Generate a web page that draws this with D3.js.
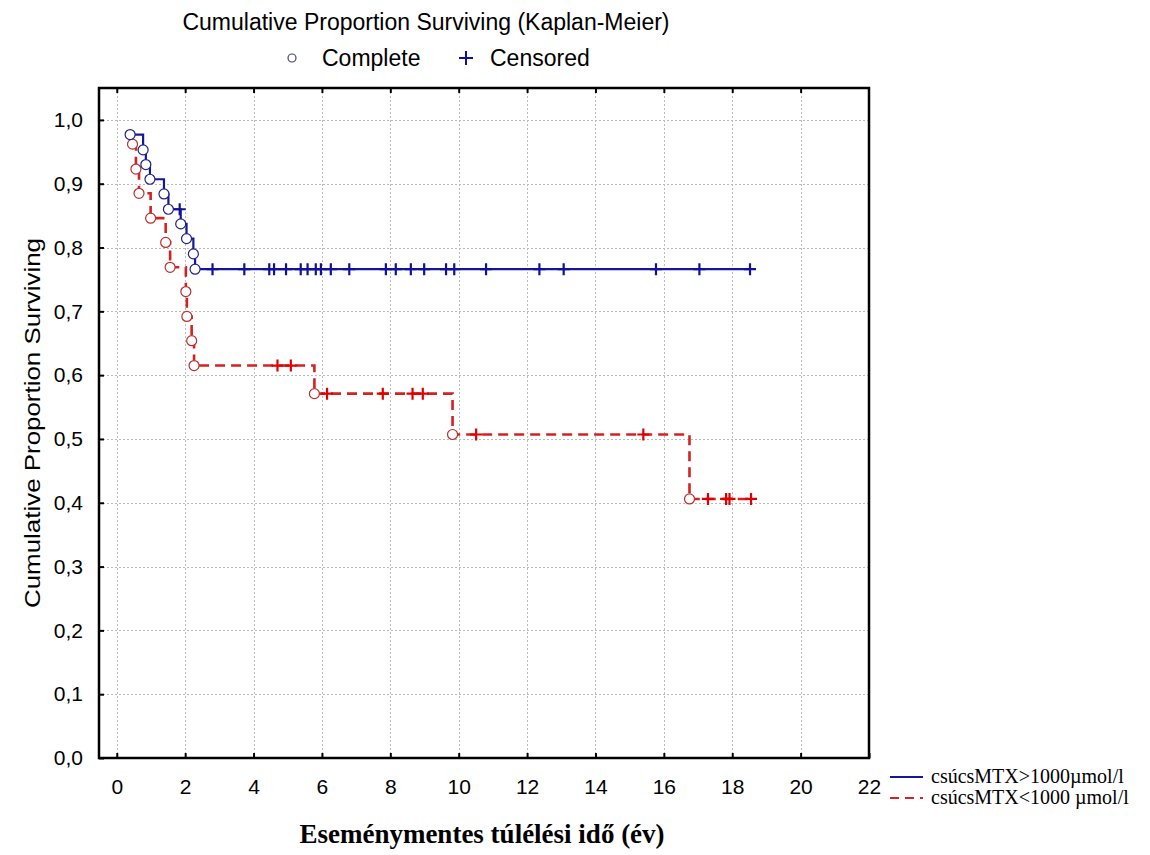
<!DOCTYPE html>
<html>
<head>
<meta charset="utf-8">
<script src="https://cdn.jsdelivr.net/npm/d3@7"></script>
<style>
  body { margin: 0; background: #fff; }
  svg { display: block; }
</style>
</head>
<body>
<svg id="km-chart" width="1150" height="855"></svg>
<script>
// values
let xTicks = [0, 2, 4, 6, 8, 10, 12, 14, 16, 18, 20, 22];
let yTicks = [0, 0.1, 0.2, 0.3, 0.4, 0.5, 0.6, 0.7, 0.8, 0.9, 1.0];

let groupNames = ["csúcsMTX>1000µmol/l", "csúcsMTX<1000 µmol/l"];

// group 1 (blue, solid)
let blueEventTimes = [0.39, 0.77, 0.85, 0.97, 1.38, 1.51, 1.87, 2.04, 2.24, 2.29];
let blueEventSurv = [0.977, 0.953, 0.930, 0.907, 0.884, 0.860, 0.837, 0.814, 0.790, 0.766];
let blueCensorTimes = [1.84, 2.80, 3.73, 4.46, 4.60, 4.95, 5.38, 5.58, 5.82, 5.97, 6.26, 6.80,
  7.87, 8.16, 8.60, 8.99, 9.63, 9.87, 10.80, 12.36, 13.07, 15.77, 17.04, 18.52];

// group 2 (red, dashed)
let redEventTimes = [0.46, 0.56, 0.65, 0.99, 1.43, 1.56, 2.02, 2.05, 2.19, 2.26, 5.78, 9.82, 16.75];
let redEventSurv = [0.962, 0.923, 0.885, 0.846, 0.808, 0.769, 0.731, 0.692, 0.654, 0.615, 0.571, 0.507, 0.406];
let redCensorTimes = [4.70, 5.09, 6.15, 7.78, 8.65, 8.95, 10.51, 15.40, 17.29, 17.82, 17.92, 18.55];

let svg = d3.select('#km-chart');
let frame = {l: 99, r: 869, t: 88, b: 758};

let x = d3.scaleLinear().domain([-0.52, 22]).range([frame.l, frame.r]);
let y = d3.scaleLinear().domain([0, 1.05]).range([frame.b, frame.t]);

let sansFont = "Arial, 'Liberation Sans', sans-serif";
let serifFont = "'Times New Roman', 'Liberation Serif', serif";

// grid
let grid = svg.append("g").attr("stroke", "#bbbbbb").attr("stroke-width", 1)
  .attr("stroke-dasharray", "2,2");
grid.selectAll(".vg").data(xTicks.filter(d => d < 22)).enter().append("line")
  .attr("x1", d => Math.round(x(d)) + 0.5).attr("x2", d => Math.round(x(d)) + 0.5)
  .attr("y1", frame.t).attr("y2", frame.b);
grid.selectAll(".hg").data(yTicks.filter(d => d > 0)).enter().append("line")
  .attr("y1", d => Math.round(y(d)) + 0.5).attr("y2", d => Math.round(y(d)) + 0.5)
  .attr("x1", frame.l).attr("x2", frame.r);

// axes with inward ticks
let xAxis = d3.axisBottom(x).tickValues(xTicks).tickSize(-5).tickFormat(d3.format("d"));
let yAxis = d3.axisLeft(y).tickValues(yTicks).tickSize(-5)
  .tickFormat(d => d3.format(".1f")(d).replace(".", ","));

let gx = svg.append("g").attr("transform", "translate(0," + frame.b + ")").call(xAxis);
let gy = svg.append("g").attr("transform", "translate(" + frame.l + ",0)").call(yAxis);
let gxTop = svg.append("g").attr("transform", "translate(0," + frame.t + ")")
  .call(d3.axisTop(x).tickValues(xTicks.filter(d => d < 22)).tickSize(-5).tickFormat(""));

[gx, gy, gxTop].forEach(g => {
  g.select(".domain").remove();
  g.selectAll(".tick line").attr("stroke", "#000").attr("stroke-width", 2);
});
gx.selectAll(".tick text").attr("font-family", sansFont).attr("font-size", "21px")
  .attr("fill", "#000").attr("y", 36).attr("dy", null);
gy.selectAll(".tick text").attr("font-family", sansFont).attr("font-size", "21px")
  .attr("fill", "#000").attr("x", -16);

svg.append("rect")
  .attr("x", frame.l).attr("y", frame.t)
  .attr("width", frame.r - frame.l).attr("height", frame.b - frame.t)
  .attr("fill", "none").attr("stroke", "#000").attr("stroke-width", 2.5);

// step path helper
function stepPoints(times, surv, endTime) {
  let pts = [[times[0], surv[0]]];
  for (let i = 1; i < times.length; i++) {
    pts.push([times[i], surv[i - 1]]);
    pts.push([times[i], surv[i]]);
  }
  pts.push([endTime, surv[surv.length - 1]]);
  return pts;
}
function levelAt(times, surv, t) {
  let i = d3.bisectRight(times, t) - 1;
  return i < 0 ? 1 : surv[i];
}

let line = d3.line().x(d => x(d[0])).y(d => y(d[1]));

function drawGroup(times, surv, censor, opts) {
  let g = svg.append("g");
  g.append("path")
    .attr("d", line(stepPoints(times, surv, d3.max(censor))))
    .attr("fill", "none")
    .attr("stroke", opts.lineColor)
    .attr("stroke-width", opts.width)
    .attr("stroke-dasharray", opts.dash);

  g.selectAll(".cens").data(censor).enter().append("path")
    .attr("transform", d => "translate(" + x(d) + "," + y(levelAt(times, surv, d)) + ")")
    .attr("d", "M-6,0H6M0,-6V6")
    .attr("stroke", opts.markColor)
    .attr("stroke-width", 2.2);

  g.selectAll(".ev").data(times).enter().append("circle")
    .attr("cx", d => x(d))
    .attr("cy", (d, i) => y(surv[i]))
    .attr("r", 5)
    .attr("fill", "#fff")
    .attr("stroke", opts.circleColor)
    .attr("stroke-width", 1.2);
}

drawGroup(redEventTimes, redEventSurv, redCensorTimes,
  {lineColor: "#d42222", markColor: "#e00000", circleColor: "#b83030", width: 2.6, dash: "10,6"});
drawGroup(blueEventTimes, blueEventSurv, blueCensorTimes,
  {lineColor: "#16169a", markColor: "#10109a", circleColor: "#202090", width: 2.2, dash: null});

// titles
svg.append("text")
  .attr("x", 426).attr("y", 30)
  .attr("text-anchor", "middle")
  .attr("font-family", sansFont).attr("font-size", "23px")
  .text("Cumulative Proportion Surviving (Kaplan-Meier)");

let topLegend = svg.append("g");
topLegend.append("circle").attr("cx", 292).attr("cy", 58).attr("r", 4)
  .attr("fill", "#fff").attr("stroke", "#404080").attr("stroke-width", 1.2);
topLegend.append("text").attr("x", 322).attr("y", 66)
  .attr("font-family", sansFont).attr("font-size", "23px").text("Complete");
topLegend.append("path").attr("transform", "translate(466,58)")
  .attr("d", "M-7,0H7M0,-7V7").attr("stroke", "#10109a").attr("stroke-width", 2);
topLegend.append("text").attr("x", 490).attr("y", 66)
  .attr("font-family", sansFont).attr("font-size", "23px").text("Censored");

svg.append("text")
  .attr("transform", "translate(40," + (frame.t + frame.b) / 2 + ") rotate(-90)")
  .attr("text-anchor", "middle")
  .attr("font-family", sansFont).attr("font-size", "22px")
  .attr("textLength", 370).attr("lengthAdjust", "spacingAndGlyphs")
  .text("Cumulative Proportion Surviving");

svg.append("text")
  .attr("x", 482).attr("y", 843)
  .attr("text-anchor", "middle")
  .attr("font-family", serifFont).attr("font-weight", "bold").attr("font-size", "27px")
  .text("Eseménymentes túlélési idő (év)");

// bottom-right legend
let legend = svg.append("g");
let legendRows = [
  {name: groupNames[0], color: "#16169a", dash: null},
  {name: groupNames[1], color: "#d42222", dash: "9,6"}
];
legendRows.forEach((row, i) => {
  let ly = 777 + i * 21;
  legend.append("line").attr("x1", 890).attr("x2", 923).attr("y1", ly).attr("y2", ly)
    .attr("stroke", row.color).attr("stroke-width", 2.2).attr("stroke-dasharray", row.dash);
  legend.append("text").attr("x", 931).attr("y", ly + 6)
    .attr("font-family", serifFont).attr("font-size", "20px")
    .text(row.name);
});
</script>
</body>
</html>
